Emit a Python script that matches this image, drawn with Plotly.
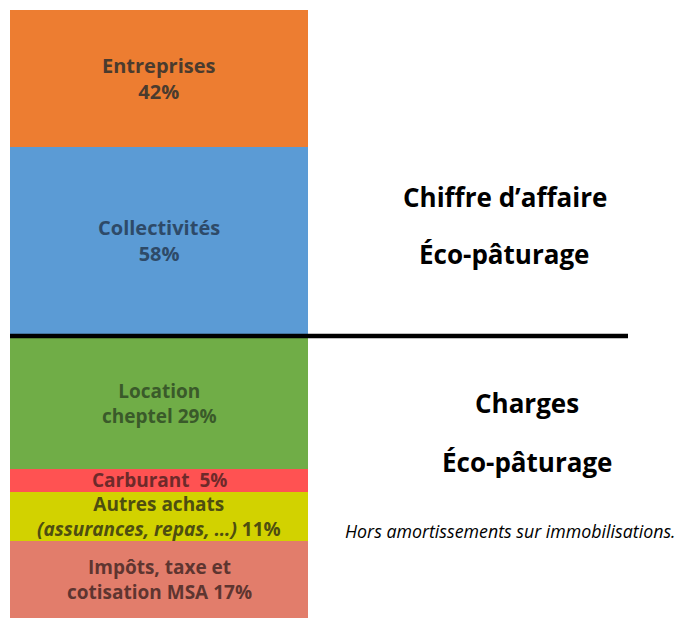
import plotly.graph_objects as go

# Revenue (Chiffre d'affaire) – stacked from bottom
rev_labels = ["Collectivités<br>58%", "Entreprises<br>42%"]
rev_values = [58, 42]
rev_colors = ["#5B9BD5", "#ED7D31"]
rev_text_colors = ["#2E4A68", "#4A3B2E"]

# Charges – stacked from bottom
chg_labels = [
    "Impôts, taxe et<br>cotisation MSA 17%",
    "Autres achats<br><i>(assurances, repas, …)</i> 11%",
    "Carburant  5%",
    "Location<br>cheptel 29%",
]
chg_values = [17, 11, 5, 29]
chg_colors = ["#E27D6B", "#D2D200", "#FF5252", "#70AD47"]
chg_text_colors = ["#5E3530", "#4E4E10", "#6E2A2A", "#3A5A2A"]

OFF = 8  # page body margin
W, H = 686 - OFF, 618 - OFF


def px(x):
    return (x - OFF) / W


def py(y):
    return 1 - (y - OFF) / H


fig = go.Figure()

for lab, v, c in zip(rev_labels, rev_values, rev_colors):
    fig.add_trace(go.Bar(x=[0], y=[v], width=1, marker=dict(color=c, line=dict(width=0)),
                         xaxis="x", yaxis="y", showlegend=False, hoverinfo="skip"))
for lab, v, c in zip(chg_labels, chg_values, chg_colors):
    fig.add_trace(go.Bar(x=[0], y=[v], width=1, marker=dict(color=c, line=dict(width=0)),
                         xaxis="x2", yaxis="y2", showlegend=False, hoverinfo="skip"))

annotations = []
label_font = "Open Sans"
cum = 0
for lab, v, tc in zip(rev_labels, rev_values, rev_text_colors):
    annotations.append(dict(x=0, y=cum + v / 2, xref="x", yref="y", text=lab, showarrow=False,
                            font=dict(family=label_font, size=20, color=tc, weight=700)))
    cum += v
cum = 0
for lab, v, tc in zip(chg_labels, chg_values, chg_text_colors):
    annotations.append(dict(x=0, y=cum + v / 2, xref="x2", yref="y2", text=lab, showarrow=False,
                            font=dict(family=label_font, size=19, color=tc, weight=700)))
    cum += v

side_texts = [
    ("Chiffre d’affaire", 505, 197, 26, 700),
    ("Éco-pâturage", 505, 254, 26, 700),
    ("Charges", 527, 403, 26, 700),
    ("Éco-pâturage", 527, 462, 26, 700),
    ("<i>Hors amortissements sur immobilisations.</i>", 510, 531, 17.8, 400),
]
for t, x, y, s, w in side_texts:
    annotations.append(dict(x=px(x), y=py(y), xref="paper", yref="paper", text=t,
                            showarrow=False, xanchor="center", yanchor="middle",
                            font=dict(family="Open Sans", size=s, color="#000000", weight=w)))

top_dom = [py(335), py(10)]
bot_dom = [0, py(338)]
xdom = [px(10), px(308)]

fig.update_layout(
    width=W, height=H,
    margin=dict(l=0, r=0, t=0, b=0),
    paper_bgcolor="white", plot_bgcolor="white",
    barmode="stack", bargap=0,
    xaxis=dict(domain=xdom, range=[-0.5, 0.5], visible=False, fixedrange=True),
    yaxis=dict(domain=top_dom, range=[0, sum(rev_values)], visible=False, fixedrange=True),
    xaxis2=dict(domain=xdom, range=[-0.5, 0.5], visible=False, anchor="y2", fixedrange=True),
    yaxis2=dict(domain=bot_dom, range=[0, sum(chg_values)], visible=False, anchor="x2", fixedrange=True),
    annotations=annotations,
    shapes=[dict(type="line", xref="paper", yref="paper", x0=px(10), x1=px(628),
                 y0=py(336), y1=py(336), line=dict(color="black", width=4.5))],
)

fig.write_html("out.html")
